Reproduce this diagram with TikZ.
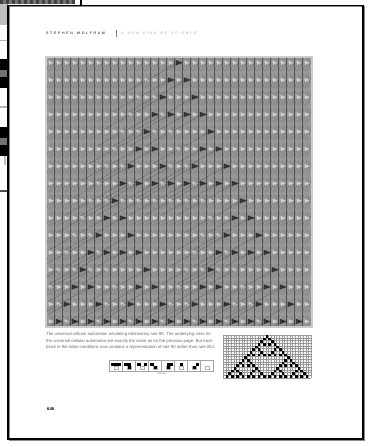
\documentclass[tikz,border=0pt]{standalone}
\usepackage{fontspec}
\setmainfont{Liberation Sans}
\usetikzlibrary{positioning}
\tikzstyle{pagetitle} = [
    anchor=west,
    inner sep=0pt,
    font=\fontsize{3.5}{4}\selectfont\addfontfeature{LetterSpace=48}
]
\tikzstyle{caption} = [
    anchor=north west,
    inner sep=0pt,
    align=left,
    text=black!60,
    font=\fontsize{4.25}{6.2}\selectfont
]
\tikzstyle{pagenumber} = [
    anchor=west,
    inner sep=0pt,
    font=\fontsize{4.2}{5}\selectfont\bfseries
]
\tikzstyle{ruleblock} = [draw=black!35, line width=0.5pt, fill=white]
\tikzstyle{gridline} = [draw=black!40, line width=0.3pt]
\def\ruleninety{0/{0},1/{0,1},2/{0,2},3/{0,1,2,3},4/{0,4},5/{0,1,4,5},6/{0,2,4,6},7/{0,1,2,3,4,5,6,7},8/{0,8},9/{0,1,8,9},10/{0,2,8,10},11/{0,1,2,3,8,9,10,11},12/{0,4,8,12},13/{0,1,4,5,8,9,12,13},14/{0,2,4,6,8,10,12,14},15/{0,1,2,3,4,5,6,7,8,9,10,11,12,13,14,15}}
\begin{document}
\begin{tikzpicture}[x=1pt, y=-1pt]

\useasboundingbox (0,0) rectangle (367,447);
\fill [white] (0,0) rectangle (367,447);

\fill [black!55] (0,0) rectangle (74,3.5);
\foreach \i in {0,6,...,72} {
    \fill [black!75] (\i,0) rectangle ++(3,3.5);
}
\fill [black] (80,0) rectangle (82,5);
\fill [black!25] (0,3.5) rectangle (8,25);
\fill [black!30] (0,39.5) rectangle (8,41);
\fill [black] (0,59) rectangle (8,88);
\fill [black!55] (0,70) rectangle (8,77);
\fill [black!30] (0,106) rectangle (8,108);
\fill [black] (0,127) rectangle (8,156);
\fill [black!55] (0,138) rectangle (8,145);
\fill [black!25] (4,156) rectangle (6,165);
\fill [black!70] (0,190) rectangle (8,191.5);

\draw [black!45, line width=1pt] (9,6.5) rectangle (364,440);
\draw [black, line width=1.6pt] (8.2,5.6) rectangle (363,439);

\node (author) [pagetitle] at (46,33) {STEPHEN\hspace{4pt}WOLFRAM};
\draw [black!50, line width=0.5pt] (116,29.5) -- (116,36.5);
\node (booktitle) [pagetitle, text=black!35] at (121,33) {A\hspace{4pt}NEW\hspace{4pt}KIND\hspace{4pt}OF\hspace{4pt}SCIENCE};

\begin{scope}
\clip (46.7,57) rectangle (311,327);
\fill [black!40] (46,57) rectangle (312,327);
\foreach \c in {0,...,32} {
    \foreach \r in {0,...,15} {
        \foreach \d in {1,3.5,6} {
            \draw [black!60, line width=0.7pt, opacity=0.5]
                (46.7+8*\c+\d-1,57+17.25*\r+14) -- ++(4,-14);
        }
        \fill [black!18] (46.7+8*\c+2,60.5+17.25*\r)
            -- (46.7+8*\c+7,62.7+17.25*\r)
            -- (46.7+8*\c+2,64.9+17.25*\r) -- cycle;
    }
    \draw [black!68, line width=0.7pt] (46.7+8*\c,57) -- (46.7+8*\c,327);
}
\foreach \r/\kk in \ruleninety {
    \foreach \k in \kk {
        \draw [black!70, line width=0.4pt, opacity=0.6]
            (178.7+16*\k-8*\r-2,62.7+17.25*\r+1) -- ++(-56,31);
        \fill [black!80] (178.7+16*\k-8*\r-3,60+17.25*\r)
            -- (178.7+16*\k-8*\r+4.5,62.7+17.25*\r)
            -- (178.7+16*\k-8*\r-3,65.4+17.25*\r) -- cycle;
    }
}
\end{scope}
\draw [black!20, line width=1.2pt] (46,57) rectangle (312,327);

\node (description) [caption] at (46,332.7) {The universal cellular automaton emulating elementary rule 90. The underlying rules for\\the universal cellular automaton are exactly the same as on the previous page. But each\\block in the initial conditions now contains a representation of rule 90 rather than rule 254.};

\foreach \n/\a/\b/\e/\o in {0/1/1/1/0,1/1/1/0/1,2/1/0/1/0,3/1/0/0/1,4/0/1/1/1,5/0/1/0/0,6/0/0/1/1,7/0/0/0/0} {
    \draw [ruleblock] (109.5+13*\n,360.7) rectangle ++(13,11);
    \ifnum\a=1 \fill (111.3+13*\n,362.5) rectangle ++(3.2,3.2); \fi
    \ifnum\b=1 \fill (114.5+13*\n,362.5) rectangle ++(3.2,3.2); \fi
    \ifnum\e=1 \fill (117.7+13*\n,362.5) rectangle ++(3.2,3.2); \fi
    \draw [black!30, line width=0.25pt] (114.5+13*\n,365.7) rectangle ++(3.2,3.2);
    \ifnum\o=1 \fill (114.5+13*\n,365.7) rectangle ++(3.2,3.2); \fi
}
\node (rulelabel) [inner sep=0pt, text=black!60, font=\fontsize{2.6}{3}\selectfont] at (161.5,373.8) {rule 90};

\fill [white] (223,335) rectangle (311,378);
\foreach \c in {0,...,33} {
    \draw [gridline] (223+2.667*\c,335) -- (223+2.667*\c,377.7);
}
\foreach \r in {0,...,16} {
    \draw [gridline] (223,335+2.667*\r) -- (311,335+2.667*\r);
}
\foreach \r/\kk in \ruleninety {
    \foreach \k in \kk {
        \fill (267+5.334*\k-2.667*\r-1.333,335+2.667*\r) rectangle ++(2.667,2.667);
    }
}

\node (pagenum) [pagenumber] at (47,409.3) {646};

\end{tikzpicture}
\end{document}
